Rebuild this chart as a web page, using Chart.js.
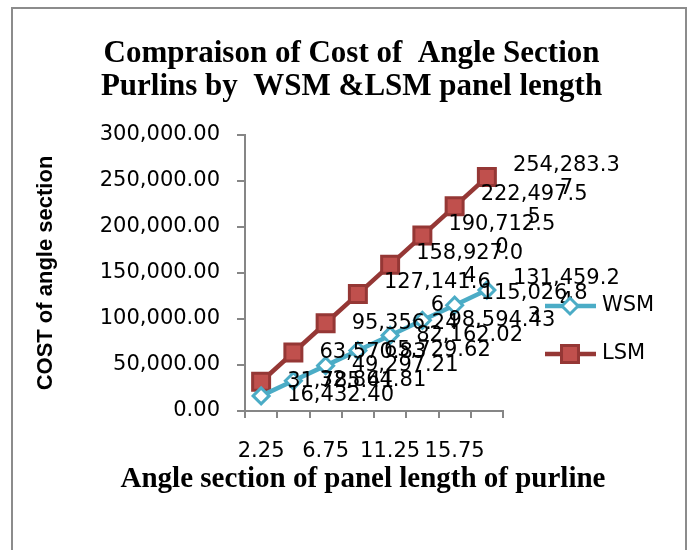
<!DOCTYPE html>
<html lang="en">
<head>
  <meta charset="UTF-8">
  <title>Cost of Angle Section Purlins - WSM vs LSM</title>
  <script src="https://cdn.jsdelivr.net/npm/chart.js"></script>
  <style>
    body { margin: 0; background: #fff; }
    canvas { display: block; }
  </style>
</head>
<body>
  <canvas id="costChart" width="691" height="550"></canvas>
  <script>
    // panel length categories (only every other one gets a label on the axis)
    const panelLengths = ['2.25', '4.5', '6.75', '9', '11.25', '13.5', '15.75', '18'];
    const wsmCost = [16432.40, 32864.81, 49297.21, 65729.62, 82162.02, 98594.43, 115026.83, 131459.24];
    const lsmCost = [31785.41, 63570.83, 95356.24, 127141.66, 158927.04, 190712.50, 222497.55, 254283.37];
    const yMax = 300000;
    const yStep = 50000;
    const xTitle = 'Angle section of panel length of purline';

    const WSM_COLOR = '#4BACC6';
    const LSM_LINE = '#953735';
    const LSM_FILL = '#C0504D';
    const AXIS_GREY = '#868686';
    const tickFont = { family: 'DejaVu Sans', size: 21 };

    const money = v => v.toLocaleString('en-US', { minimumFractionDigits: 2, maximumFractionDigits: 2 });

    // frame around the whole chart
    const framePlugin = {
      id: 'frame',
      beforeDraw(chart) {
        const ctx = chart.ctx;
        ctx.save();
        ctx.fillStyle = '#fff';
        ctx.fillRect(0, 0, chart.width, chart.height);
        ctx.strokeStyle = '#8c8c8c';
        ctx.lineWidth = 2;
        ctx.strokeRect(12, 8, 674, 600);
        ctx.restore();
      }
    };

    // value labels to the right of each point, wrapped like the original
    const pointLabels = {
      id: 'pointLabels',
      afterDatasetsDraw(chart) {
        const ctx = chart.ctx;
        ctx.save();
        ctx.font = '21px "DejaVu Sans"';
        ctx.fillStyle = '#000';
        ctx.textAlign = 'center';
        ctx.textBaseline = 'middle';
        const maxW = ctx.measureText('16,432.40').width + 2;
        chart.data.datasets.forEach((ds, i) => {
          chart.getDatasetMeta(i).data.forEach((pt, j) => {
            const text = money(ds.data[j]);
            let lines = [text];
            if (ctx.measureText(text).width > maxW) {
              let k = text.length;
              while (k > 1 && ctx.measureText(text.slice(0, k)).width > maxW) k--;
              lines = [text.slice(0, k), text.slice(k)];
            }
            const w = ctx.measureText(lines[0]).width;
            const cx = pt.x + 26 + w / 2;
            const top = pt.y - (lines.length - 1) * 11.5;
            lines.forEach((l, n) => ctx.fillText(l, cx, top + n * 23));
          });
        });
        ctx.restore();
      }
    };

    // legend (line + marker + name) and the horizontal axis title
    const sideLegend = {
      id: 'sideLegend',
      afterDraw(chart) {
        const ctx = chart.ctx;
        const items = [
          { name: 'WSM', y: 306, line: WSM_COLOR, fill: '#fff', stroke: WSM_COLOR, style: 'rectRot', r: 8 },
          { name: 'LSM', y: 354, line: LSM_LINE, fill: LSM_FILL, stroke: LSM_LINE, style: 'rect', r: 12 }
        ];
        ctx.save();
        items.forEach(it => {
          ctx.strokeStyle = it.line;
          ctx.lineWidth = 4.5;
          ctx.beginPath();
          ctx.moveTo(545, it.y);
          ctx.lineTo(596, it.y);
          ctx.stroke();
          ctx.fillStyle = it.fill;
          ctx.strokeStyle = it.stroke;
          ctx.lineWidth = 3;
          Chart.helpers.drawPoint(ctx, { pointStyle: it.style, radius: it.r, rotation: 0, borderWidth: 3 }, 570, it.y);
          ctx.fillStyle = '#000';
          ctx.font = '21px "DejaVu Sans"';
          ctx.textAlign = 'left';
          ctx.textBaseline = 'middle';
          ctx.fillText(it.name, 602, it.y);
        });

        ctx.font = 'bold 29px "Liberation Serif"';
        ctx.textAlign = 'center';
        ctx.textBaseline = 'middle';
        ctx.fillStyle = '#000';
        ctx.fillText(xTitle, 363, 480);
        ctx.restore();
      }
    };

    new Chart(document.getElementById('costChart'), {
      type: 'line',
      data: {
        labels: panelLengths,
        datasets: [
          {
            label: 'WSM',
            data: wsmCost,
            borderColor: WSM_COLOR,
            borderWidth: 4.5,
            pointStyle: 'rectRot',
            pointRadius: 8,
            pointBorderWidth: 3,
            pointBorderColor: WSM_COLOR,
            pointBackgroundColor: '#fff',
            tension: 0
          },
          {
            label: 'LSM',
            data: lsmCost,
            borderColor: LSM_LINE,
            borderWidth: 4.5,
            pointStyle: 'rect',
            pointRadius: 12,
            pointBorderWidth: 3,
            pointBorderColor: LSM_LINE,
            pointBackgroundColor: LSM_FILL,
            tension: 0
          }
        ]
      },
      options: {
        responsive: false,
        animation: false,
        devicePixelRatio: 1,
        layout: { padding: { left: 12, top: 0, right: 0, bottom: 0 } },
        plugins: {
          legend: { display: false },
          tooltip: { enabled: false },
          title: {
            display: true,
            text: ['Compraison of Cost of  Angle Section', 'Purlins by  WSM &LSM panel length'],
            color: '#000',
            font: { family: 'Liberation Serif', size: 31, weight: 'bold', lineHeight: 1.065 },
            padding: { top: 37, bottom: 32 }
          }
        },
        scales: {
          x: {
            offset: true,
            grid: { offset: true, drawOnChartArea: false, drawTicks: true, tickLength: 7, color: AXIS_GREY, lineWidth: 2 },
            border: { display: true, color: AXIS_GREY, width: 2 },
            ticks: {
              autoSkip: false,
              maxRotation: 0,
              padding: 21,
              color: '#000',
              font: tickFont,
              callback: (v, i) => (i % 2 === 0 ? panelLengths[i] : '')
            },
            title: { display: false },
            afterFit(s) { s.height = 139; }
          },
          y: {
            min: 0,
            max: yMax,
            grid: { drawOnChartArea: false, drawTicks: true, tickLength: 8, color: AXIS_GREY, lineWidth: 2 },
            border: { display: true, color: AXIS_GREY, width: 2 },
            ticks: {
              stepSize: yStep,
              padding: 17,
              color: '#000',
              font: tickFont,
              callback: v => money(v)
            },
            title: {
              display: true,
              text: 'COST of angle section',
              color: '#000',
              font: { family: 'Liberation Sans', size: 22, weight: 'bold', lineHeight: 1.2 },
              padding: { top: 21, bottom: 0 }
            },
            afterFit(s) { s.width = 233; }
          },
          legendSpace: {
            type: 'linear',
            position: 'right',
            display: true,
            grid: { display: false },
            border: { display: false },
            ticks: { display: false },
            afterFit(s) { s.width = 188; }
          }
        }
      },
      plugins: [framePlugin, pointLabels, sideLegend]
    });
  </script>
</body>
</html>
